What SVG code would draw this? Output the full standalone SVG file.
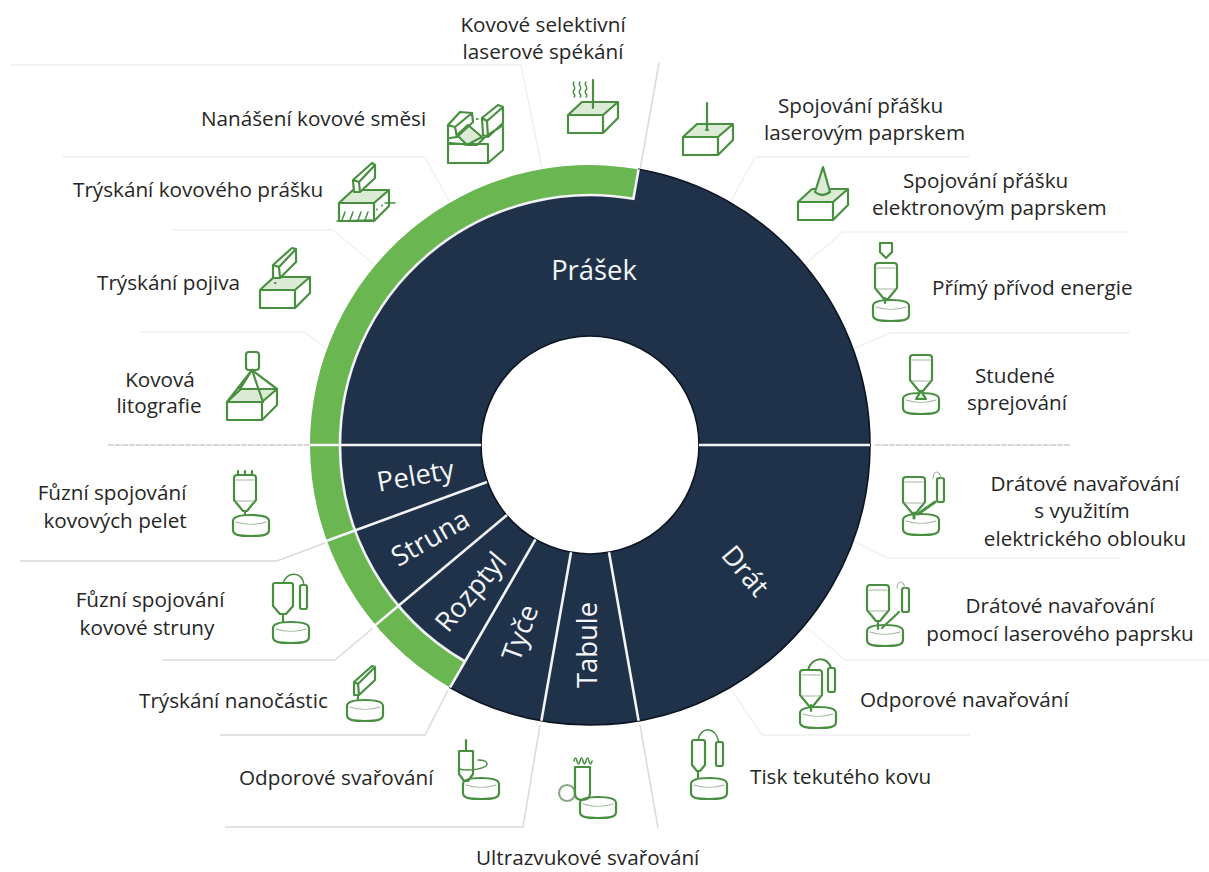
<svg xmlns="http://www.w3.org/2000/svg" width="1209" height="872" viewBox="0 0 1209 872">
<style>
text{font-family:"Open Sans","Noto Sans","DejaVu Sans",sans-serif;font-size:20.7px;fill:#262626}
.c{text-anchor:middle}
.s{font-size:27.4px;fill:#f4f6f8;text-anchor:middle}
.i{fill:none;stroke:#488f40;stroke-width:2.2;stroke-linejoin:round;stroke-linecap:round}
.l{fill:#dcebd6}
.t{fill:none;stroke:#9fb89a;stroke-width:1.2}
.fa{fill:none;stroke:#f1f1f1;stroke-width:1.5}
.me{fill:none;stroke:#dadada;stroke-width:1.5}
.da{fill:none;stroke:#cfcdc8;stroke-width:1.5;stroke-dasharray:6 1}
.w{fill:none;stroke:#f2f4f5;stroke-width:2.6}
.dk{fill:#20324a;stroke:#0c1522;stroke-width:1.6}
.gr{fill:#6ab650}
</style>
<defs>
<g id="disk"><path d="M0 6C0 1 8 0 18 0S36 1 36 6V15C36 20 30 21 18 21S0 20 0 15Z"/><path class="t" d="M3 7C12 10 24 10 33 7"/></g>
<g id="nozzle"><path d="M3 0H19Q22 0 22 3V25L13 36H9L0 25V3Q0 0 3 0Z"/><path class="t" d="M2 5H20M2 26H20"/></g>
<g id="tube"><rect x="0" y="0" width="7" height="24" rx="2"/></g>
<g id="block"><path class="l" stroke="none" d="M0 0L14-13H50L35 0Z"/><path d="M0 0H35V18H0ZM0 0L14-13H50L35 0M50-13V3L35 18"/></g>
</defs>

<g id="connectors">
<path class="fa" d="M10 65H521L542 168"/>
<path class="fa" d="M62 157H425L450 203"/>
<path class="fa" d="M172 230H333L375 265"/>
<path class="fa" d="M140 332H305L327 349"/>
<path class="me" d="M659 63L640 170"/>
<path class="fa" d="M970 157H755L730 203"/>
<path class="fa" d="M1130 232H843L804 265"/>
<path class="fa" d="M1130 333H890L853 349"/>
<path class="da" d="M108 445H310"/>
<path class="da" d="M875 445H1070"/>
<path class="fa" d="M1120 558H887L853 541"/>
<path class="fa" d="M1209 660H845L804 625"/>
<path class="fa" d="M970 735H762L730 688"/>
<path class="me" d="M658 828L640 725"/>
<path class="me" d="M225 827H523L540 725"/>
<path class="me" d="M220 735H425L448 690"/>
<path class="me" d="M162 660H335L373 628"/>
<path class="me" d="M20 561H277L325 543"/>
</g>

<g id="wheel">
<path class="gr" d="M310 445A280 280 0 0 1 638.6 169.3L633.4 198.8A250 250 0 0 0 340 445Z"/>
<path class="gr" d="M310 445A280 280 0 0 0 450 687.5L465 661.5A250 250 0 0 1 340 445Z"/>
<path class="dk" d="M340 445A250 250 0 0 1 633.4 198.8L638.6 169.3A280 280 0 0 1 870 445H699A109 109 0 0 0 481 445Z"/>
<path class="dk" d="M340 445A250 250 0 0 0 465 661.5L450 687.5A280 280 0 0 0 870 445H699A109 109 0 0 1 481 445Z"/>
<path class="w" d="M310 445H481M699 445H870"/>
<path class="w" d="M340 445A250 250 0 0 1 633.4 198.8L638.6 169.3M340 445A250 250 0 0 0 465 661.5"/>
<path class="w" d="M487 482L327 540.8M507 515L375.5 625M535.5 539.4L450 687.5M571 552.3L541.4 720.7M609 552.3L638.6 720.7"/>
</g>

<g id="s-prasek"><text class="s" x="594" y="280">Prášek</text></g>
<g id="s-pelety"><text class="s" transform="translate(417 485) rotate(-10)">Pelety</text></g>
<g id="s-struna"><text class="s" transform="translate(435 546) rotate(-30)">Struna</text></g>
<g id="s-rozptyl"><text class="s" transform="translate(478 598) rotate(-50)">Rozptyl</text></g>
<g id="s-tyce"><text class="s" transform="translate(529 636) rotate(-70)">Tyče</text></g>
<g id="s-tabule"><text class="s" transform="translate(597 645) rotate(-90)">Tabule</text></g>
<g id="s-drat"><text class="s" transform="translate(738 577) rotate(50)">Drát</text></g>

<g id="kovove-selektivni">
<text class="c" x="543" y="32">Kovové selektivní</text><text class="c" x="543" y="59">laserové spékání</text>
<g class="i"><use href="#block" x="568" y="115"/><path d="M593 80V108"/><path stroke-width="1.4" d="M574 82c-3 3 3 5 0 8s3 5 0 7M580 82c-3 3 3 5 0 8s3 5 0 7M586 82c-3 3 3 5 0 8s3 5 0 7"/></g>
</g>
<g id="naneseni">
<text x="201" y="126">Nanášení kovové směsi</text>
<g class="i"><path class="l" stroke="none" d="M457 135L468 125L482 137L467 145Z"/><path d="M448 144H488V163H448ZM488 163L503 150V127M448 144V125L460 112L472 113L473 122L457 137L450 138M448 125L455 127L457 137M455 127L472 113M482 118L498 105L503 107V123L488 137L483 135ZM482 118L487 121L488 137M487 121L503 107M450 143L462 144L467 145H477L485 137L503 125M457 135L468 125L482 137L467 145Z"/><path d="M477 119h.5"/></g>
</g>
<g id="tryskani-prasku">
<text x="73" y="197">Trýskání kovového prášku</text>
<g class="i"><use href="#block" x="339" y="203"/><path fill="#fff" d="M353 180L372 163L375 165V178L360 192H354ZM353 180L359 182L360 192M359 182L375 165"/><path stroke-width="1.5" d="M345 212l-3 8M353 212l-3 8M361 212l-3 8M368 212l-3 8M377 209v1M382 205v1M385 203H395M337 221L372 220"/></g>
</g>
<g id="tryskani-pojiva">
<text x="97" y="290">Trýskání pojiva</text>
<g class="i"><use href="#block" x="260" y="290"/><path fill="#fff" d="M273 265L292 248L296 249V262L280 278H273ZM273 265L279 267L280 278M279 267L296 249"/><path d="M275 283h.5"/></g>
</g>
<g id="litografie">
<text class="c" x="160" y="387">Kovová</text><text class="c" x="159" y="413">litografie</text>
<g class="i"><use href="#block" x="227" y="402"/><rect x="246" y="352" width="13" height="18" rx="3"/><path d="M252 370L227 402M252 370L277 389M252 370L263 402M252 370L240 389"/></g>
</g>
<g id="spojovani-laser">
<text x="778" y="113">Spojování přášku</text><text x="764" y="140">laserovým paprskem</text>
<g class="i"><use href="#block" x="683" y="137"/><path d="M707 103V129M706 130h2"/></g>
</g>
<g id="spojovani-elektron">
<text x="903" y="188">Spojování přášku</text><text x="872" y="215">elektronovým paprskem</text>
<g class="i"><use href="#block" x="798" y="202"/><path class="l" d="M823 167L815 192Q822 198 830 192Z"/></g>
</g>
<g id="primy-privod">
<text x="932" y="295">Přímý přívod energie</text>
<g class="i"><use href="#nozzle" x="875" y="263"/><use href="#disk" x="873" y="300"/><path d="M885 298V303M880 243H892V252L886 258L880 252Z"/></g>
</g>
<g id="studene">
<text class="c" x="1015" y="383">Studené</text><text class="c" x="1017" y="410">sprejování</text>
<g class="i"><use href="#nozzle" x="910" y="355"/><use href="#disk" x="903" y="393"/><path class="l" d="M921 391L916 399H926Z"/></g>
</g>
<g id="drat-oblouk">
<text class="c" x="1085" y="491">Drátové navařování</text><text class="c" x="1082" y="518">s využitím</text><text class="c" x="1085" y="546">elektrického oblouku</text>
<g class="i"><use href="#nozzle" x="903" y="477"/><use href="#disk" x="903" y="514"/><use href="#tube" x="937" y="478"/><path d="M914 513V518M918 514L935 502" stroke-width="3"/><path class="t" d="M933 478C934 470 939 470 941 478"/></g>
</g>
<g id="drat-laser">
<text class="c" x="1060" y="613">Drátové navařování</text><text class="c" x="1060" y="641">pomocí laserového paprsku</text>
<g class="i"><use href="#nozzle" x="867" y="585"/><use href="#disk" x="867" y="625"/><use href="#tube" x="902" y="588"/><path d="M878 621V629M882 628L899 612"/><path class="t" d="M897 588C898 580 903 580 905 588"/></g>
</g>
<g id="odporove-navarovani">
<text x="860" y="707">Odporové navařování</text>
<g class="i"><use href="#nozzle" x="800" y="670"/><use href="#disk" x="800" y="707"/><use href="#tube" x="828" y="668"/><path d="M811 705V711M808 670C812 656 828 656 831 668"/></g>
</g>
<g id="tisk">
<text x="750" y="784">Tisk tekutého kovu</text>
<g class="i"><path d="M692 742Q692 740 694 740H703Q705 740 705 742V765L700 771H697L692 765ZM698 771V778"/><use href="#disk" x="691" y="778"/><use href="#tube" x="716" y="742"/><path stroke-width="1.5" d="M698 740C701 726 715 726 719 742"/></g>
</g>
<g id="ultrazvuk">
<text x="476" y="865">Ultrazvukové svařování</text>
<g class="i"><circle cx="567" cy="793" r="8" stroke="#8ca886"/><path fill="#fff" d="M575 767H590V793Q590 800 582 800Q575 800 575 793Z"/><use href="#disk" x="580" y="797"/><path stroke-width="1.5" d="M574 761c1-4 2-4 3 0s2 4 3 0s2-4 3 0s2 4 3 0s2-4 3 0s2 4 3 0"/></g>
</g>
<g id="odporove-svarovani">
<text x="239" y="785">Odporové svařování</text>
<g class="i"><path d="M466 740V751M459 751H473V774L468 781H464L459 774Z"/><use href="#disk" x="463" y="778"/><path stroke-width="1.5" d="M459 769C470 772 487 768 487 764C487 761 482 760 478 760"/></g>
</g>
<g id="nanocastice">
<text x="139" y="708">Trýskání nanočástic</text>
<g class="i"><path d="M354 682L372 666L375 667V680L359 695H354ZM354 682L358 684L359 695M358 684L375 667M358 695V700"/><use href="#disk" x="347" y="700"/></g>
</g>
<g id="fuzni-struna">
<text class="c" x="150" y="607">Fůzní spojování</text><text class="c" x="147" y="635">kovové struny</text>
<g class="i"><path d="M273 585Q273 583 275 583H291Q293 583 293 585V606L286 614H280L273 606ZM283 614V622"/><use href="#disk" x="273" y="622"/><use href="#tube" x="300" y="585"/><path stroke-width="1.5" d="M283 583C288 571 302 571 304 585"/></g>
</g>
<g id="fuzni-pelety">
<text class="c" x="112" y="500">Fůzní spojování</text><text class="c" x="115" y="528">kovových pelet</text>
<g class="i"><use href="#nozzle" x="234" y="475"/><path d="M245 511V515M238 474v-3M245 474v-3M252 474v-3"/><use href="#disk" x="233" y="515"/></g>
</g>
</svg>
